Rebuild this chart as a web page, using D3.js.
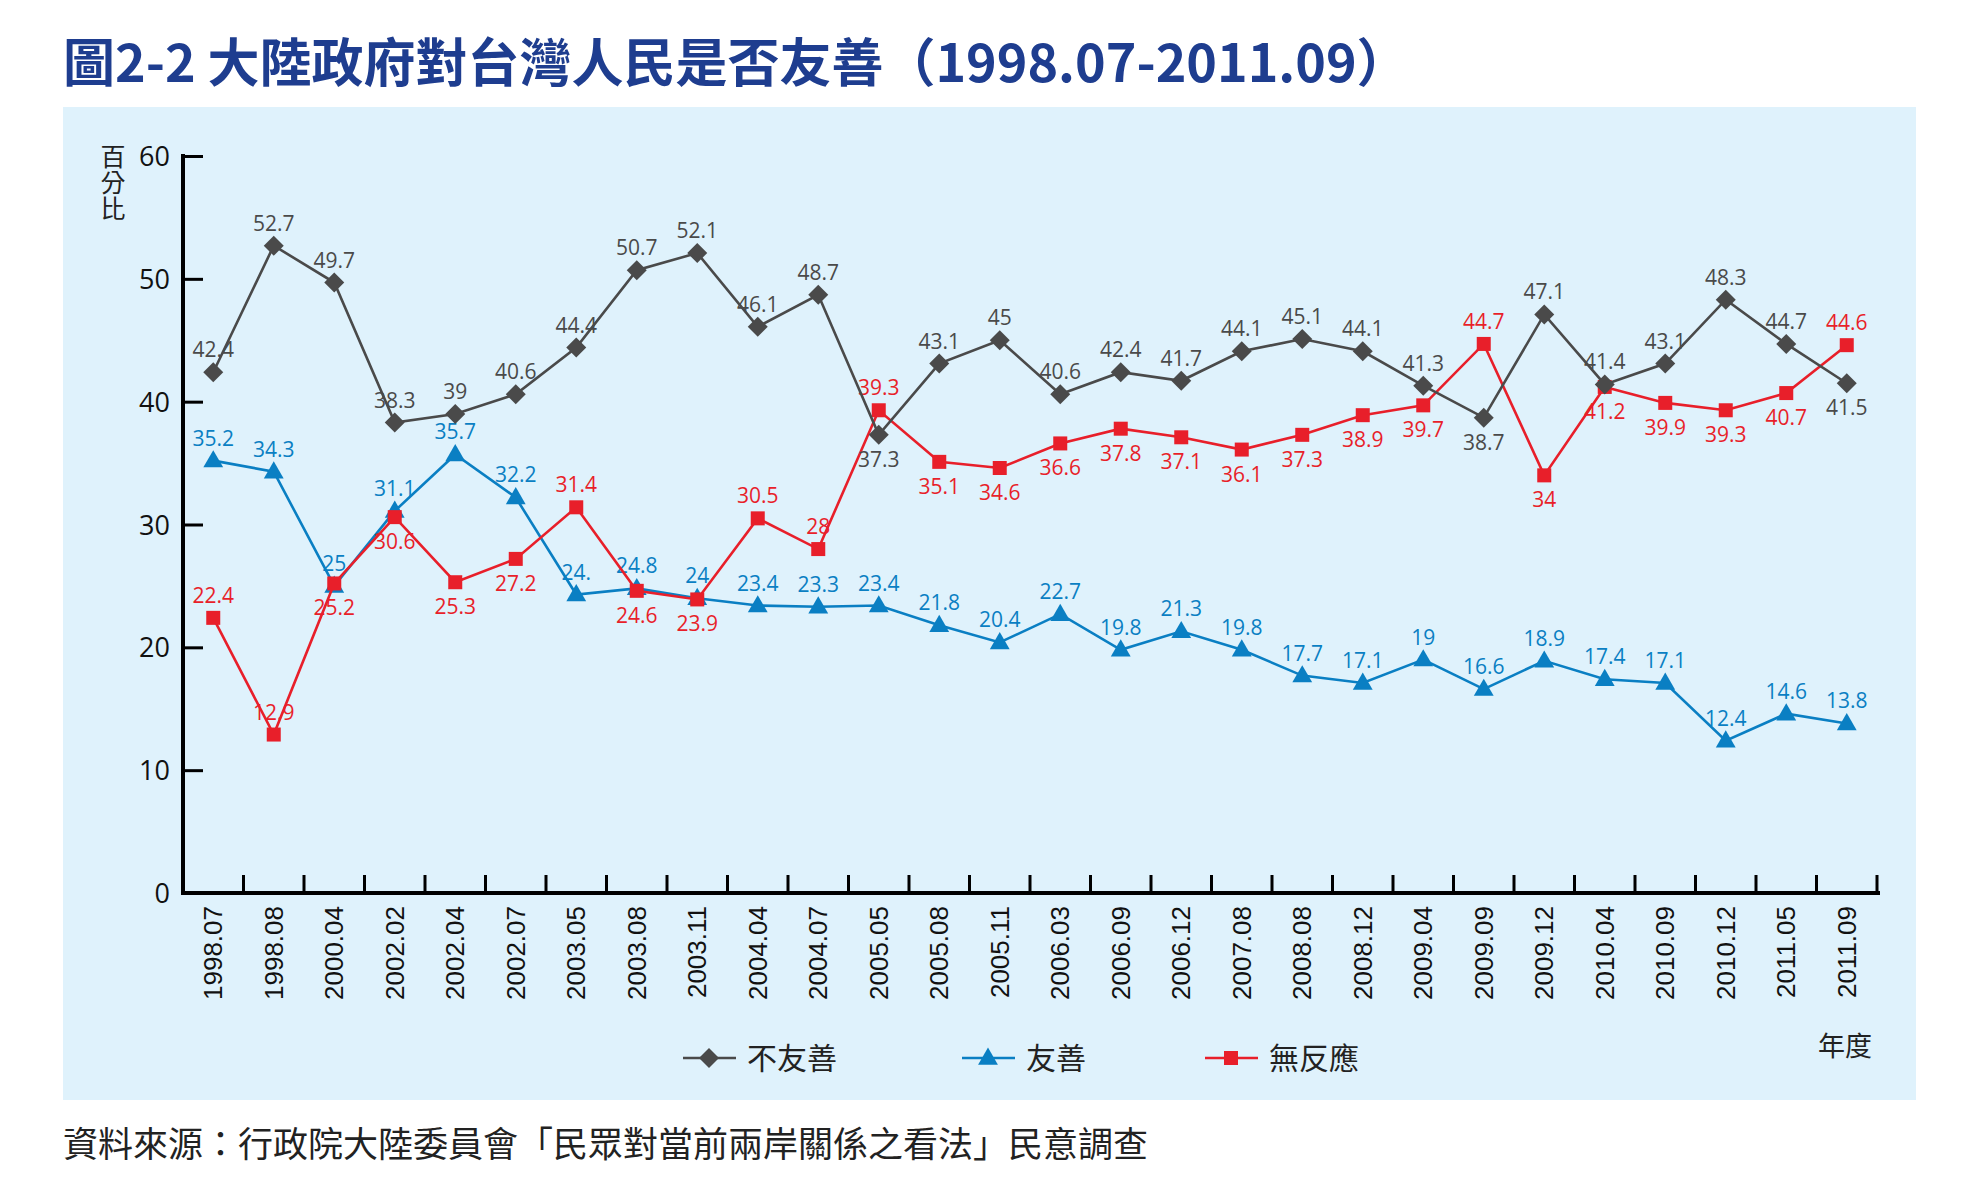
<!DOCTYPE html>
<html><head><meta charset="utf-8">
<script src="https://cdn.jsdelivr.net/npm/d3@7"></script>
<style>body{margin:0;background:#fff}svg{display:block}</style>
</head><body>
<script>
const categories=["1998.07","1998.08","2000.04","2002.02","2002.04","2002.07","2003.05","2003.08","2003.11","2004.04","2004.07","2005.05","2005.08","2005.11","2006.03","2006.09","2006.12","2007.08","2008.08","2008.12","2009.04","2009.09","2009.12","2010.04","2010.09","2010.12","2011.05","2011.09"];
const unfriendly=[42.4,52.7,49.7,38.3,39,40.6,44.4,50.7,52.1,46.1,48.7,37.3,43.1,45,40.6,42.4,41.7,44.1,45.1,44.1,41.3,38.7,47.1,41.4,43.1,48.3,44.7,41.5];
const friendly=[35.2,34.3,25,31.1,35.7,32.2,24.3,24.8,24,23.4,23.3,23.4,21.8,20.4,22.7,19.8,21.3,19.8,17.7,17.1,19,16.6,18.9,17.4,17.1,12.4,14.6,13.8];
const friendlyLabels=["35.2","34.3","25","31.1","35.7","32.2","24.","24.8","24","23.4","23.3","23.4","21.8","20.4","22.7","19.8","21.3","19.8","17.7","17.1","19","16.6","18.9","17.4","17.1","12.4","14.6","13.8"];
const noReaction=[22.4,12.9,25.2,30.6,25.3,27.2,31.4,24.6,23.9,30.5,28,39.3,35.1,34.6,36.6,37.8,37.1,36.1,37.3,38.9,39.7,44.7,34,41.2,39.9,39.3,40.7,44.6];
const unfriendlyBelow=[11,21,27];
const noReactionAbove=[0,1,6,9,10,11,21,27];
const yTicks=[0,10,20,30,40,50,60];
const seriesNames=["不友善","友善","無反應"];

const W=1969,H=1181;
const svg=d3.select("body").append("svg").attr("width",W).attr("height",H);
const cjk="'Noto Sans CJK TC','Noto Sans',sans-serif";
const num="'Open Sans','Noto Sans',sans-serif";
const GRAY="#4a4a4a",BLUE="#0a7fc3",RED="#e81f2a";

svg.append("text").attr("x",63).attr("y",82).attr("fill","#1e3d8f")
  .attr("font-family",cjk).attr("font-weight","bold").attr("font-size",52)
  .text("圖2-2  大陸政府對台灣人民是否友善（1998.07-2011.09）");
svg.append("rect").attr("x",63).attr("y",107).attr("width",1853).attr("height",993).attr("fill","#dff2fc");
svg.append("text").attr("x",63).attr("y",1157).attr("fill","#222")
  .attr("font-family",cjk).attr("font-size",35)
  .text("資料來源：行政院大陸委員會「民眾對當前兩岸關係之看法」民意調查");

const x=d3.scaleBand().domain(categories).range([183,1877]);
const y=d3.scaleLinear().domain([0,60]).range([893,156]);
const cx=d=>x(d)+x.bandwidth()/2;

// axes
const ya=svg.append("g").attr("transform","translate(183,0)")
  .call(d3.axisRight(y).tickValues(yTicks).tickSize(20).tickFormat(""));
ya.select(".domain").attr("stroke","#000").attr("stroke-width",4).attr("d","M0,154V895");
ya.selectAll("line").attr("stroke","#000").attr("stroke-width",3);
yTicks.forEach(t=>svg.append("text").attr("x",170).attr("y",y(t)+10).attr("text-anchor","end")
  .attr("font-family",num).attr("font-size",27).attr("fill","#111").text(t));
const xa=svg.append("g").attr("transform","translate(0,893)")
  .call(d3.axisTop(x).tickSize(0).tickFormat(""));
xa.select(".domain").attr("stroke","#000").attr("stroke-width",4).attr("d","M181,0H1880");
d3.range(1,29).forEach(i=>svg.append("line").attr("x1",183+i*x.step()).attr("x2",183+i*x.step())
  .attr("y1",893).attr("y2",875).attr("stroke","#000").attr("stroke-width",3));
categories.forEach(c=>svg.append("text").attr("transform",`translate(${cx(c)+9},906) rotate(-90)`)
  .attr("text-anchor","end").attr("font-family","'Liberation Sans',Arial,sans-serif")
  .attr("font-size",26).attr("fill","#111").text(c));

["百","分","比"].forEach((ch,i)=>svg.append("text").attr("x",113).attr("y",166+i*26)
  .attr("text-anchor","middle").attr("font-family",cjk).attr("font-size",25).attr("fill","#222").text(ch));
svg.append("text").attr("x",1845).attr("y",1056).attr("text-anchor","middle")
  .attr("font-family",cjk).attr("font-size",27).attr("fill","#222").text("年度");

const line=d3.line().x((d,i)=>cx(categories[i])).y(d=>y(d));
function marker(g,type,color,px,py){
  if(type==="diamond") g.append("path").attr("d",`M${px},${py-10}L${px+10},${py}L${px},${py+10}L${px-10},${py}Z`).attr("fill",color);
  else if(type==="tri") g.append("path").attr("d",d3.symbol(d3.symbolTriangle,170)()).attr("transform",`translate(${px},${py+1})`).attr("fill",color);
  else g.append("rect").attr("x",px-7).attr("y",py-7).attr("width",14).attr("height",14).attr("fill",color);
}
function series(vals,labels,color,type,below){
  const g=svg.append("g");
  g.append("path").datum(vals).attr("d",line).attr("fill","none").attr("stroke",color).attr("stroke-width",2.6);
  vals.forEach((v,i)=>marker(g,type,color,cx(categories[i]),y(v)));
  vals.forEach((v,i)=>g.append("text").attr("x",cx(categories[i])).attr("y",below(i)?y(v)+32:y(v)-15)
    .attr("text-anchor","middle").attr("font-family",num).attr("font-size",21).attr("fill",color).text(labels[i]));
}
series(friendly,friendlyLabels,BLUE,"tri",()=>false);
series(noReaction,noReaction.map(String),RED,"sq",i=>!noReactionAbove.includes(i));
series(unfriendly,unfriendly.map(String),GRAY,"diamond",i=>unfriendlyBelow.includes(i));

// legend
const leg=[[683,GRAY,"diamond"],[962,BLUE,"tri"],[1205,RED,"sq"]];
leg.forEach((l,i)=>{
  const g=svg.append("g");
  g.append("line").attr("x1",l[0]).attr("x2",l[0]+53).attr("y1",1058).attr("y2",1058).attr("stroke",l[1]).attr("stroke-width",2.6);
  marker(g,l[2],l[1],l[0]+26,1058);
  g.append("text").attr("x",l[0]+64).attr("y",1069).attr("font-family",cjk).attr("font-size",30).attr("fill","#222").text(seriesNames[i]);
});
</script>
</body></html>
